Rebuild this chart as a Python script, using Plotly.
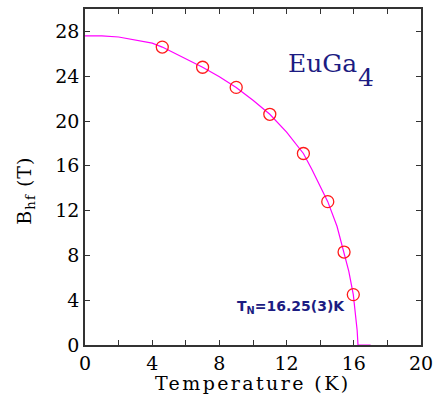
import plotly.graph_objects as go

# Measured hyperfine field vs temperature
temp_data = [4.6, 7.0, 9.0, 11.0, 13.0, 14.45, 15.42, 15.97]
bhf_data = [26.6, 24.8, 23.0, 20.6, 17.1, 12.8, 8.3, 4.5]

# Fit curve
fit_T = [0, 1, 2, 3, 4, 4.6, 5, 6, 7, 8, 9, 10, 11, 12, 13, 13.5, 14, 14.45, 15, 15.42, 15.7, 15.97, 16.1, 16.2, 16.25, 17.0]
fit_B = [27.6, 27.6, 27.5, 27.25, 26.95, 26.6, 26.3, 25.6, 24.8, 23.95, 23.0, 21.85, 20.6, 19.0, 17.1, 15.7, 14.2, 12.8, 10.6, 8.3, 6.6, 4.5, 2.9, 1.3, 0.0, 0.0]

x_tickvals = [0, 4, 8, 12, 16, 20]
x_minorvals = [2, 6, 10, 14, 18]
y_tickvals = [0, 4, 8, 12, 16, 20, 24, 28]

navy = "#1c1c82"
serif = "DejaVu Serif"

fig = go.Figure()
fig.add_trace(go.Scatter(x=fit_T, y=fit_B, mode="lines",
                         line=dict(color="#ff00ff", width=1.2, shape="linear"),
                         cliponaxis=False, hoverinfo="skip"))
fig.add_trace(go.Scatter(x=temp_data, y=bhf_data, mode="markers",
                         marker=dict(symbol="circle-open", size=12, color="#ff1a1a",
                                     line=dict(width=1.3, color="#ff1a1a"))))

axis_common = dict(showgrid=False, zeroline=False, showline=True, linecolor="#333333",
                   linewidth=1.5, ticks="inside", ticklen=5, tickwidth=1.2,
                   tickcolor="#333333", mirror="ticks", layer="below traces",
                   automargin=False,
                   tickfont=dict(family=serif, size=19, color="black"))

fig.update_layout(
    width=436, height=397,
    margin=dict(l=85, r=15, t=9, b=52),
    paper_bgcolor="white", plot_bgcolor="white",
    showlegend=False,
    xaxis=dict(range=[0, 20], tickmode="array", tickvals=x_tickvals,
               minor=dict(tickmode="array", tickvals=x_minorvals, ticks="inside",
                          ticklen=5, tickwidth=1.2, tickcolor="#333333", showgrid=False),
               **axis_common),
    yaxis=dict(range=[0, 30], tickmode="array", tickvals=y_tickvals,
               **axis_common),
)

# Axis titles
fig.add_annotation(x=0.5, y=-0.113, xref="paper", yref="paper",
                   text='<span style="letter-spacing:2.4px">Temperature (K)</span>',
                   showarrow=False, font=dict(family=serif, size=19, color="black"),
                   xanchor="center", yanchor="middle")
fig.add_annotation(x=-0.178, y=0.46, xref="paper", yref="paper",
                   text='<span style="letter-spacing:1px">B<sub>hf</sub> (T)</span>', textangle=-90,
                   showarrow=False, font=dict(family=serif, size=19, color="black"),
                   xanchor="center", yanchor="middle")

fig.add_annotation(x=14.14, y=25.1, xref="x", yref="y", text="EuGa", showarrow=False,
                   font=dict(family=serif, size=25, color=navy), xanchor="center", yanchor="middle")
fig.add_annotation(x=16.73, y=23.85, xref="x", yref="y", text="4", showarrow=False,
                   font=dict(family=serif, size=25, color=navy), xanchor="center", yanchor="middle")
fig.add_annotation(x=12.25, y=3.4, xref="x", yref="y", text="<b>T<sub>N</sub>=16.25(3)K</b>",
                   showarrow=False, font=dict(family="DejaVu Sans", size=14, color=navy),
                   xanchor="center", yanchor="middle")

fig.write_html("out.html", config={"displayModeBar": False},
               post_script="document.body.style.margin='0';document.body.style.overflow='hidden';")
